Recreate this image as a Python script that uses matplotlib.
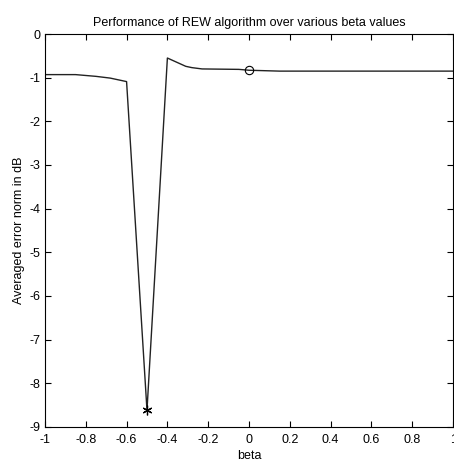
import matplotlib
matplotlib.use("Agg")
import matplotlib.pyplot as plt

# beta values and averaged error norm (dB)
beta = [-1.0, -0.85, -0.75, -0.68, -0.62, -0.6, -0.5, -0.4, -0.31, -0.28,
        -0.23, -0.05, 0.0, 0.15, 1.0]
err_db = [-0.93, -0.93, -0.97, -1.01, -1.07, -1.09, -8.62, -0.55, -0.74, -0.77,
          -0.80, -0.81, -0.83, -0.85, -0.85]

best_beta, best_err = -0.5, -8.62
ref_beta, ref_err = 0.0, -0.83

xticks = [-1, -0.8, -0.6, -0.4, -0.2, 0, 0.2, 0.4, 0.6, 0.8, 1]
xticklabels = ['-1', '-0.8', '-0.6', '-0.4', '-0.2', '0', '0.2', '0.4', '0.6', '0.8', '1']
yticks = list(range(-9, 1))

plt.rcParams['font.family'] = ['Liberation Sans', 'DejaVu Sans']
plt.rcParams['axes.unicode_minus'] = False

fig = plt.figure(figsize=(4.54, 4.66), dpi=100)
ax = fig.add_axes([0.099, 0.084, 0.899, 0.843])

ax.plot(beta, err_db, '-', color='#222222', linewidth=1)
# asterisk marker like matlab's '*'
ax.plot(best_beta, best_err, marker=(6, 2, 0), color='black', markersize=7,
        markeredgewidth=0.9, linestyle='none')
ax.plot(ref_beta, ref_err, 'o', markerfacecolor='none', markeredgecolor='black',
        markersize=6, markeredgewidth=0.8)

ax.set_xlim(-1, 1)
ax.set_ylim(-9, 0)
ax.set_xticks(xticks)
ax.set_xticklabels(xticklabels)
ax.set_yticks(yticks)
ax.tick_params(direction='in', top=True, right=True, length=4, labelsize=9, width=0.8)
ax.tick_params(axis='x', pad=5)
for s in ax.spines.values():
    s.set_linewidth(0.8)

ax.set_title('Performance of REW algorithm over various beta values', fontsize=9, pad=6)
ax.set_xlabel('beta', fontsize=9, labelpad=3)
ax.set_ylabel('Averaged error norm in dB', fontsize=9, labelpad=3)

fig.savefig('out.png', dpi=100)
